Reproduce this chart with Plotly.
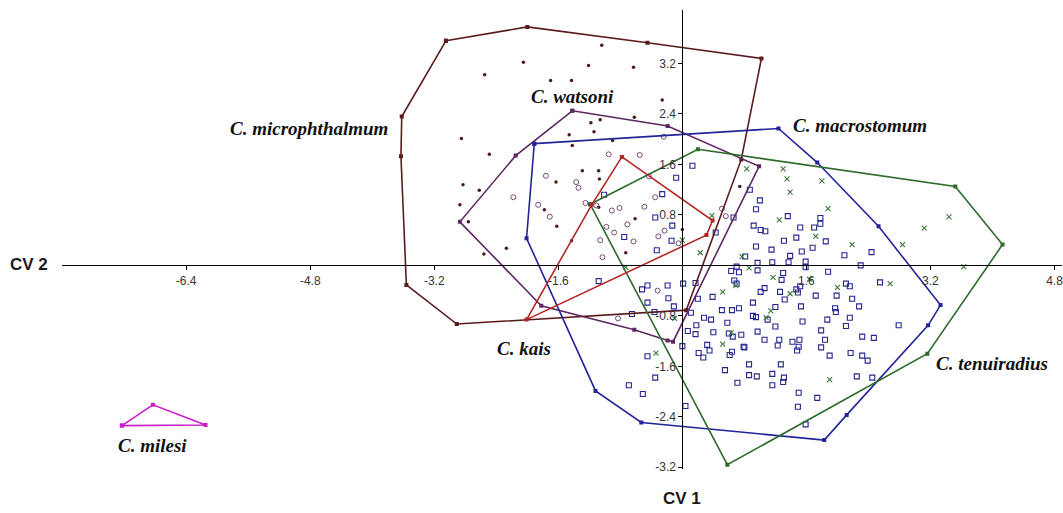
import plotly.graph_objects as go

# ---- canonical variate scores (CV 1, CV 2) ----
# C. microphthalmum
micro_hull_x = [-3.05, -2.00, -0.45, 1.02, 0.76, 0.05, -2.91, -3.56, -3.63, -3.62]
micro_hull_y = [3.56, 3.78, 3.53, 3.28, 1.68, -0.71, -0.93, -0.31, 1.73, 2.36]
micro_x = [-1.04, -2.05, -1.21, -0.63, -2.55, -1.70, -1.43, -0.26, -1.18, -1.06, -0.62,
           -2.85, -1.46, -1.14, -1.42, -2.49, -2.15, -1.29, -1.08, -1.63, -1.07, -2.83,
           -2.62, -2.87, -1.78, -1.62, -2.76, -1.08, -0.61, -2.27, -2.56, -0.73, -1.43,
           0.00, -0.90, 0.74]
micro_y = [3.49, 3.22, 3.17, 3.14, 3.02, 2.93, 2.93, 2.62, 2.26, 2.31, 2.35,
           2.01, 2.07, 2.12, 1.90, 1.76, 1.74, 1.50, 1.50, 1.32, 1.37, 1.28,
           1.19, 0.96, 0.88, 0.62, 0.69, 0.92, 0.74, 0.27, 0.18, 0.20, 0.39,
           0.57, 1.98, 1.25]

# C. watsoni
wats_hull_x = [-1.42, -0.19, 0.99, -0.12, -0.19, -0.62, -1.82, -2.87, -2.15]
wats_hull_y = [2.45, 2.21, 1.57, -1.21, -1.19, -1.02, -0.64, 0.69, 1.74]
wats_x = [-0.24, -0.95, -0.55, -1.76, -1.37, -1.34, -2.18, -1.86, -1.71, -1.25, -1.11,
          -0.91, -0.81, -0.49, -0.35, -0.98, -0.88, -0.71, -0.63, -0.31, -0.23, -1.06,
          -1.03, -0.05, -0.32, -0.83, -0.43, 0.51, 0.56]
wats_y = [2.04, 1.76, 1.75, 1.42, 1.32, 1.23, 1.08, 0.96, 0.77, 0.99, 0.95,
          0.87, 0.91, 0.93, 1.08, 0.61, 0.52, 0.65, 0.38, 0.46, 0.55, 0.40,
          0.13, 0.35, -0.40, -0.84, 1.41, 0.90, 0.78]

# C. macrostomum
macro_hull_x = [-1.91, 1.24, 1.74, 2.53, 3.33, 3.17, 2.12, 1.83, -0.53, -1.12, -2.01]
macro_hull_y = [1.93, 2.17, 1.63, 0.62, -0.63, -0.95, -2.37, -2.77, -2.49, -1.99, 0.43]
macro_x = [0.13, 0.87, 1.00, 0.95, 1.36, 0.66, 0.92, 1.01, 1.07, 0.43, 1.52, 1.70, 1.78,
           1.78, 1.47, 1.31, 1.85, 0.95, 1.68, 2.09, 2.44, 1.54, 1.39, 1.15, 0.81, 1.16,
           1.37, 1.59, 2.30, 0.97, 0.70, 0.63, 0.73, 0.97, 1.30, 1.59, 1.88, 0.01, 0.17,
           0.39, 0.20, 0.70, 1.06, 1.01, 1.26, 1.32, 1.47, 1.49, 1.52, 1.72, 1.99, 2.11,
           2.16, 2.19, 0.91, 0.51, 0.64, 0.73, 1.20, 1.97, 2.28, 1.53, 1.98, 0.91, 1.10,
           1.55, 1.87, 2.16, 2.11, 1.20, 1.79, 0.97, 0.76, 1.06, 1.25, 1.42, 1.51, 1.84,
           2.32, 2.47, 2.79, 0.80, 1.23, 1.50, 1.48, 1.79, 1.90, 2.17, 2.32, 2.39, 0.86,
           1.27, 1.16, 0.86, 0.96, 1.31, 1.30, 1.16, 2.25, 2.45, 1.50, 1.74, 1.49, 1.59,
           -1.08, -0.52, -0.45, -0.19, -0.45, -0.18, -0.36, -0.65, 0.11, 0.28, 0.37, 0.58,
           0.07, 0.17, 0.40, 0.60, 0.61, 0.00, 0.32, 0.21, 0.27, 0.35, 0.64, 0.79, 0.55,
           -0.45, -0.35, 0.71, -0.69, -0.51, 0.04, -0.11, 0.95, -0.08, -0.26, -0.35, -0.13,
           -0.75, -0.33, -0.14, -1.01, 0.18, 0.65, 0.67, 2.55, 1.28]
macro_y = [1.58, 1.20, 1.03, 0.89, 0.78, 0.76, 0.63, 0.56, 0.54, 0.52, 0.60, 0.60, 0.66,
           0.75, 0.44, 0.39, 0.38, 0.30, 0.28, 0.16, 0.21, 0.22, 0.15, 0.25, 0.14, 0.05,
           0.05, 0.06, 0.00, 0.04, -0.02, -0.09, -0.11, -0.08, -0.12, -0.03, -0.10, -0.29,
           -0.28, -0.50, -0.53, -0.29, -0.36, -0.42, -0.42, -0.54, -0.38, -0.43, -0.33,
           -0.48, -0.48, -0.29, -0.33, -0.53, -0.59, -0.71, -0.71, -0.68, -0.66, -0.68,
           -0.65, -0.65, -0.74, -0.80, -0.86, -0.89, -0.86, -0.83, -0.96, -0.97, -1.03,
           -1.05, -1.10, -1.18, -1.18, -1.21, -1.18, -1.18, -1.13, -1.15, -0.95, -1.30,
           -1.27, -1.29, -1.35, -1.30, -1.43, -1.39, -1.43, -1.51, -1.57, -1.57, -1.72,
           -1.74, -1.76, -1.78, -1.85, -1.90, -1.76, -1.78, -2.02, -2.10, -2.24, -2.52,
           -0.25, -0.38, -0.32, -0.32, -0.59, -0.52, -0.74, -0.77, -0.75, -0.83, -0.86,
           -0.91, -1.04, -1.09, -1.06, -1.08, -1.42, -1.28, -1.26, -1.39, -1.46, -1.35,
           -1.37, -1.29, -1.66, -1.44, -1.78, -1.86, -1.90, -2.04, -2.23, -0.65, -0.82,
           1.39, 1.13, 0.76, 0.63, 0.45, 0.24, 0.39, 1.12, -0.95, -1.13, -0.24, -0.27, -0.23]

# C. tenuiradius
tenu_hull_x = [-1.19, 0.20, 3.52, 4.13, 3.16, 0.58]
tenu_hull_y = [0.97, 1.84, 1.25, 0.33, -1.40, -3.16]
tenu_x = [0.83, 1.30, 1.35, 1.80, 1.39, 1.88, 1.25, 0.38, 1.72, 2.19, 0.23, 0.77, 0.86,
          1.17, 1.64, 0.52, 1.39, 2.00, 1.14, 0.00, 3.44, 3.12, 2.84, 3.63, 2.68, -0.73,
          1.90, 1.08, 0.52, 0.63, -0.34, -0.10, 0.69]
tenu_y = [1.53, 1.53, 1.37, 1.34, 1.16, 0.90, 0.72, 0.79, 0.46, 0.33, 0.20, 0.14, -0.04,
          -0.19, -0.22, -0.42, -0.45, -0.35, -0.72, 0.40, 0.77, 0.59, 0.33, -0.02, -0.29,
          -0.03, -1.81, -0.83, -1.25, -1.07, -1.39, -0.84, -0.32]

# C. kais
kais_x = [-0.78, 0.39, 0.31, -2.01, -1.17]
kais_y = [1.72, 0.71, 0.48, -0.86, 0.96]

# C. milesi
miles_x = [-7.23, -6.83, -6.15]
miles_y = [-2.54, -2.21, -2.53]

# ---- tick labels ----
x_ticks = [-6.4, -4.8, -3.2, -1.6, 1.6, 3.2, 4.8]
y_ticks = [3.2, 2.4, 1.6, 0.8, -0.8, -1.6, -2.4, -3.2]

# species label anchors (CV 1, CV 2)
labels = [
    ("C. microphthalmum", -4.81, 2.17),
    ("C. watsoni", -1.42, 2.67),
    ("C. macrostomum", 2.29, 2.21),
    ("C. kais", -2.04, -1.32),
    ("C. tenuiradius", 3.99, -1.55),
    ("C. milesi", -6.83, -2.85),
]

C_MICRO = "#5b1a1c"
C_WATS = "#5e2863"
C_MACRO = "#23239a"
C_TENU = "#2d6b2d"
C_KAIS = "#b52626"
C_MILES = "#c81fc8"


def closed(v):
    return list(v) + [v[0]]


fig = go.Figure()


def hull(xs, ys, color):
    fig.add_trace(go.Scatter(
        x=closed(xs), y=closed(ys), mode="lines+markers",
        line=dict(color=color, width=1.6),
        marker=dict(symbol="square", size=4, color=color),
        hoverinfo="skip", showlegend=False))


# specimen scores
fig.add_trace(go.Scatter(x=micro_x, y=micro_y, mode="markers",
                         marker=dict(symbol="circle", size=3.5, color="#4a1c1c"),
                         showlegend=False))
fig.add_trace(go.Scatter(x=wats_x, y=wats_y, mode="markers",
                         marker=dict(symbol="circle-open", size=5, color="#7a4a78",
                                     line=dict(width=1)),
                         showlegend=False))
fig.add_trace(go.Scatter(x=macro_x, y=macro_y, mode="markers",
                         marker=dict(symbol="square-open", size=5, color="#262690",
                                     line=dict(width=1.1)),
                         showlegend=False))
fig.add_trace(go.Scatter(x=tenu_x, y=tenu_y, mode="markers",
                         marker=dict(symbol="x-thin-open", size=5, color="#3a7a3a",
                                     line=dict(width=1.1)),
                         showlegend=False))

# convex hulls
hull(micro_hull_x, micro_hull_y, C_MICRO)
hull(wats_hull_x, wats_hull_y, C_WATS)
hull(macro_hull_x, macro_hull_y, C_MACRO)
hull(tenu_hull_x, tenu_hull_y, C_TENU)
hull(kais_x, kais_y, C_KAIS)
hull(miles_x, miles_y, C_MILES)

for text, lx, ly in labels:
    fig.add_annotation(x=lx, y=ly, xref="x", yref="y", text=f"<b><i>{text}</i></b>",
                       showarrow=False, xanchor="center", yanchor="middle",
                       font=dict(family="Liberation Serif", size=19, color="#111111"))

W, H = 1063, 513
fig.add_annotation(x=29 / W, y=(H - 267) / H, xref="paper", yref="paper",
                   text="<b>CV 2</b>", showarrow=False, xanchor="center", yanchor="middle",
                   font=dict(family="Liberation Sans", size=17, color="#1a1a1a"))
fig.add_annotation(x=683 / W, y=(H - 503) / H, xref="paper", yref="paper",
                   text="<b>CV 1</b>", showarrow=False, xanchor="center", yanchor="middle",
                   font=dict(family="Liberation Sans", size=17, color="#1a1a1a"))

tickfont = dict(family="Liberation Sans", size=12, color="#333333")
fig.update_layout(
    width=W, height=H,
    margin=dict(l=0, r=0, t=0, b=0),
    paper_bgcolor="white", plot_bgcolor="white",
    xaxis=dict(domain=[62 / W, 1], range=[-8.003, 4.897], anchor="free",
               position=(H - 268) / H, showline=True, linecolor="black", linewidth=1,
               ticks="outside", ticklen=4, tickcolor="black",
               tickvals=x_ticks, ticktext=[f"{v:.1f}" for v in x_ticks],
               ticklabeloverflow="allow",
               tickfont=tickfont, showgrid=False, zeroline=False),
    yaxis=dict(domain=[(H - 474) / H, (H - 10) / H], range=[-3.234, 4.05], anchor="free",
               position=683 / W, showline=True, linecolor="black", linewidth=1,
               ticks="outside", ticklen=4, tickcolor="black",
               tickvals=y_ticks, ticktext=[f"{v:.1f}" for v in y_ticks],
               tickfont=tickfont, showgrid=False, zeroline=False),
)

fig.write_html("out.html")
